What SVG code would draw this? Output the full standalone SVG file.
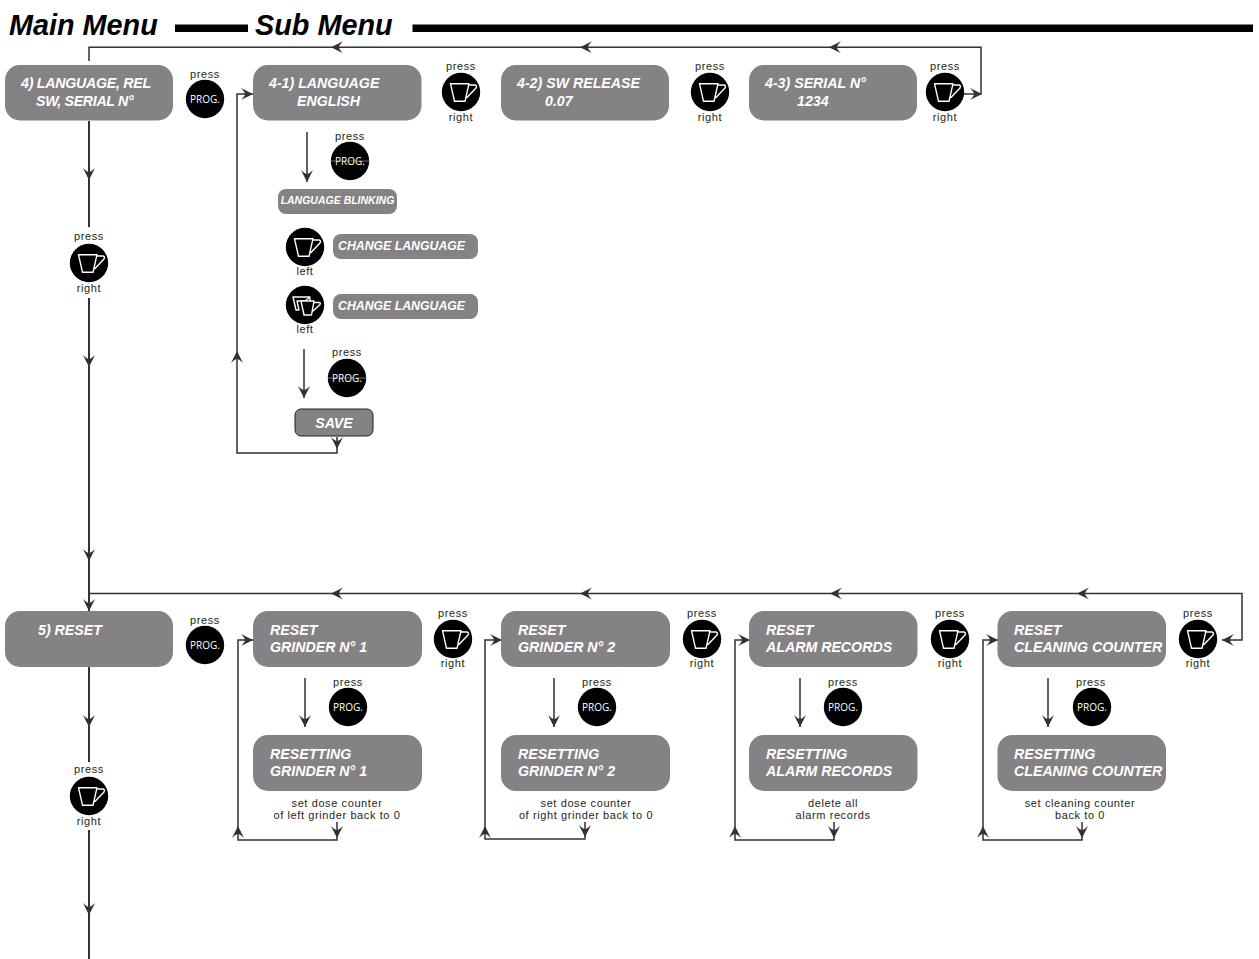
<svg xmlns="http://www.w3.org/2000/svg" width="1259" height="959" viewBox="0 0 1259 959">
<style>
text{font-family:"Liberation Sans",Arial,sans-serif}
.b{fill:#848285}
.t{font-size:14.2px;font-weight:bold;font-style:italic;fill:#fff}
.s{font-size:12.3px;font-weight:bold;font-style:italic;fill:#fff}
.h{font-size:28.8px;font-weight:bold;font-style:italic;fill:#000}
.p,.n{font-size:11px;letter-spacing:.6px;fill:#231f20;text-anchor:middle}
.g{font-size:10px;fill:#fff;text-anchor:middle;font-family:"Open Sans",sans-serif}
.l{fill:none;stroke:#333132;stroke-width:1.5}
.m{fill:none;stroke:#333132;stroke-width:2}
.c{fill:none;stroke:#fff;stroke-width:1.4;stroke-linejoin:round}
.k{fill:#000;stroke:#fff;stroke-width:1.4;stroke-linejoin:round}
.x{stroke:#bdbbbc;stroke-width:.6}
</style>
<defs>
<path id="a" d="M0 0L-12 -6Q-8 -2 -8 0Q-8 2 -12 6Z" fill="#333132"/>
<g id="cup"><circle r="19.200" fill="#000"/><path class="c" d="M-10.500 -8.300H8L4 9.300H-6.500ZM8 -7H13.500Q16.500 -7 15 -4L5.500 6"/></g>
<g id="prog"><circle r="19.200" fill="#000"/><text class="g" y="3.700">PROG.</text></g>
</defs>
<rect id="bar1" x="175" y="24.500" width="73" height="7.500" fill="#000"/>
<rect id="bar2" x="412.500" y="24.500" width="840.500" height="7.500" fill="#000"/>
<text class="h" x="9" y="35">Main Menu</text>
<text class="h" x="255" y="35">Sub Menu</text>
<g id="connectors">
<path class="l" d="M89 61V47.300H981V94H963"/>
<path class="m" d="M89 121V227M89 298V611M89 667V762M89 830V959"/>
<path class="l" d="M89 593.500H1242V640H1222"/>
<path class="l" d="M253 94H237V453H337V437"/>
<path class="l" d="M307 132V182M304 349V398"/>
<path class="l" d="M253 640H238V840H337V822M502 640H485V839H585V822M750 640H735V840H834V822M998 640H983V840H1082V822"/>
<path class="l" d="M305 678V727M554 678V727M800 678V727M1048 678V727"/>
<g id="arrows">
<use href="#a" transform="translate(331 47.300) rotate(180)"/>
<use href="#a" transform="translate(580 47.300) rotate(180)"/>
<use href="#a" transform="translate(829 47.300) rotate(180)"/>
<use href="#a" transform="translate(982 94)"/>
<use href="#a" transform="translate(89 180) rotate(90)"/>
<use href="#a" transform="translate(89 367) rotate(90)"/>
<use href="#a" transform="translate(89 561) rotate(90)"/>
<use href="#a" transform="translate(89 611) rotate(90)"/>
<use href="#a" transform="translate(89 727) rotate(90)"/>
<use href="#a" transform="translate(89 915) rotate(90)"/>
<use href="#a" transform="translate(331 593.500) rotate(180)"/>
<use href="#a" transform="translate(580 593.500) rotate(180)"/>
<use href="#a" transform="translate(830 593.500) rotate(180)"/>
<use href="#a" transform="translate(1077 593.500) rotate(180)"/>
<use href="#a" transform="translate(1222 640) rotate(180)"/>
<use href="#a" transform="translate(253 94)"/>
<use href="#a" transform="translate(237 351) rotate(-90)"/>
<use href="#a" transform="translate(307 182) rotate(90)"/>
<use href="#a" transform="translate(304 398) rotate(90)"/>
<use href="#a" transform="translate(337 449) rotate(90)"/>
<use href="#a" transform="translate(253 640)"/>
<use href="#a" transform="translate(502 640)"/>
<use href="#a" transform="translate(750 640)"/>
<use href="#a" transform="translate(998 640)"/>
<use href="#a" transform="translate(238 826) rotate(-90)"/>
<use href="#a" transform="translate(485 826) rotate(-90)"/>
<use href="#a" transform="translate(735 826) rotate(-90)"/>
<use href="#a" transform="translate(983 826) rotate(-90)"/>
<use href="#a" transform="translate(337 838) rotate(90)"/>
<use href="#a" transform="translate(585 837) rotate(90)"/>
<use href="#a" transform="translate(834 838) rotate(90)"/>
<use href="#a" transform="translate(1082 838) rotate(90)"/>
<use href="#a" transform="translate(305 727) rotate(90)"/>
<use href="#a" transform="translate(554 727) rotate(90)"/>
<use href="#a" transform="translate(800 727) rotate(90)"/>
<use href="#a" transform="translate(1048 727) rotate(90)"/>
</g>
</g>
<g id="n4"><rect class="b" x="5" y="65" width="168" height="55.500" rx="15"/><text class="t" x="21" y="88" letter-spacing="-.25">4) LANGUAGE, REL</text><text class="t" x="36" y="106" letter-spacing="-.3">SW, SERIAL N°</text></g>
<g id="n4p"><text class="p" x="205" y="77.500">press</text><use href="#prog" x="205" y="99"/></g>
<g id="n41"><rect class="b" x="253" y="65" width="168.500" height="55.500" rx="15"/><text class="t" x="269" y="88">4-1) LANGUAGE</text><text class="t" x="297" y="106">ENGLISH</text></g>
<g id="n41r"><text class="p" x="461" y="69.500">press</text><use href="#cup" x="461" y="92"/><text class="n" x="461" y="121">right</text></g>
<g id="n42"><rect class="b" x="501" y="65" width="168" height="55.500" rx="15"/><text class="t" x="517" y="88">4-2) SW RELEASE</text><text class="t" x="545" y="106">0.07</text></g>
<g id="n42r"><text class="p" x="710" y="69.500">press</text><use href="#cup" x="710" y="92"/><text class="n" x="710" y="121">right</text></g>
<g id="n43"><rect class="b" x="749" y="65" width="168" height="55.500" rx="15"/><text class="t" x="765" y="88">4-3) SERIAL N°</text><text class="t" x="797" y="106">1234</text></g>
<g id="n43r"><text class="p" x="945" y="69.500">press</text><use href="#cup" x="945" y="92"/><text class="n" x="945" y="121">right</text></g>
<g id="m4r"><text class="p" x="89" y="239.500">press</text><use href="#cup" x="89" y="263"/><text class="n" x="89" y="292">right</text></g>
<g id="l1p"><text class="p" x="350" y="139.500">press</text><use href="#prog" x="350" y="161"/><path class="x" d="M330.500 161H369.500"/></g>
<g id="blink"><rect class="b" x="278" y="189" width="119" height="25" rx="8"/><text x="337.500" y="204" text-anchor="middle" style="font-size:10.500px;font-weight:bold;font-style:italic;fill:#fff">LANGUAGE BLINKING</text></g>
<g id="cl1"><use href="#cup" x="305" y="247"/><text class="n" x="305" y="275">left</text><rect class="b" x="333" y="234" width="145" height="25" rx="8"/><text class="s" x="338" y="250">CHANGE LANGUAGE</text></g>
<g id="cl2"><circle cx="305" cy="305" r="19.200" fill="#000"/><path class="c" d="M293 297H310L305 301H297L299 310H296ZM310 298V301"/><path class="k" d="M301 301H314L311.500 315H304ZM314 302.500H319Q321 302.500 320 304.500L312 312"/><text class="n" x="305" y="333">left</text><rect class="b" x="333" y="294" width="145" height="25" rx="8"/><text class="s" x="338" y="310">CHANGE LANGUAGE</text></g>
<g id="l2p"><text class="p" x="347" y="355.500">press</text><use href="#prog" x="347" y="378"/><path class="x" d="M327.500 378H366.500"/></g>
<g id="save"><rect x="295" y="409" width="78" height="27" rx="6" fill="#848285" stroke="#231f20" stroke-width="1"/><text class="t" x="334" y="427.500" text-anchor="middle">SAVE</text></g>
<g id="n5"><rect class="b" x="5" y="611" width="168" height="56" rx="15"/><text class="t" x="38" y="635">5) RESET</text></g>
<g id="n5p"><text class="p" x="205" y="624">press</text><use href="#prog" x="205" y="645"/></g>
<g id="m5r"><text class="p" x="89" y="772.500">press</text><use href="#cup" x="89" y="796"/><text class="n" x="89" y="825">right</text></g>
<g id="r1"><rect class="b" x="253" y="611" width="169" height="56" rx="15"/><text class="t" x="270" y="635">RESET</text><text class="t" x="270" y="652">GRINDER N° 1</text><text class="p" x="453" y="617">press</text><use href="#cup" x="453" y="639"/><text class="n" x="453" y="667">right</text><text class="p" x="348" y="686">press</text><use href="#prog" x="348" y="707"/><rect class="b" x="253" y="735" width="169" height="56" rx="15"/><text class="t" x="270" y="759">RESETTING</text><text class="t" x="270" y="776">GRINDER N° 1</text><text class="n" x="337" y="807">set dose counter</text><text class="n" x="337" y="819">of left grinder back to 0</text></g>
<g id="r2"><rect class="b" x="501" y="611" width="169" height="56" rx="15"/><text class="t" x="518" y="635">RESET</text><text class="t" x="518" y="652">GRINDER N° 2</text><text class="p" x="702" y="617">press</text><use href="#cup" x="702" y="639"/><text class="n" x="702" y="667">right</text><text class="p" x="597" y="686">press</text><use href="#prog" x="597" y="707"/><rect class="b" x="501" y="735" width="169" height="56" rx="15"/><text class="t" x="518" y="759">RESETTING</text><text class="t" x="518" y="776">GRINDER N° 2</text><text class="n" x="586" y="807">set dose counter</text><text class="n" x="586" y="819">of right grinder back to 0</text></g>
<g id="r3"><rect class="b" x="749" y="611" width="168.500" height="56" rx="15"/><text class="t" x="766" y="635">RESET</text><text class="t" x="766" y="652">ALARM RECORDS</text><text class="p" x="950" y="617">press</text><use href="#cup" x="950" y="639"/><text class="n" x="950" y="667">right</text><text class="p" x="843" y="686">press</text><use href="#prog" x="843" y="707"/><rect class="b" x="749" y="735" width="168.500" height="56" rx="15"/><text class="t" x="766" y="759">RESETTING</text><text class="t" x="766" y="776">ALARM RECORDS</text><text class="n" x="833" y="807">delete all</text><text class="n" x="833" y="819">alarm records</text></g>
<g id="r4"><rect class="b" x="997.500" y="611" width="168.500" height="56" rx="15"/><text class="t" x="1014" y="635">RESET</text><text class="t" x="1014" y="652">CLEANING COUNTER</text><text class="p" x="1198" y="617">press</text><use href="#cup" x="1198" y="639"/><text class="n" x="1198" y="667">right</text><text class="p" x="1091" y="686">press</text><use href="#prog" x="1092" y="707"/><rect class="b" x="997.500" y="735" width="168.500" height="56" rx="15"/><text class="t" x="1014" y="759">RESETTING</text><text class="t" x="1014" y="776">CLEANING COUNTER</text><text class="n" x="1080" y="807">set cleaning counter</text><text class="n" x="1080" y="819">back to 0</text></g>
</svg>
